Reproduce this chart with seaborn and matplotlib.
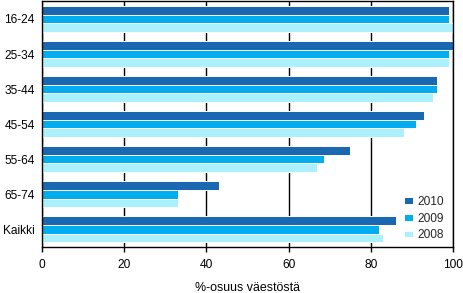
import matplotlib
matplotlib.use("Agg")
import matplotlib.pyplot as plt
import seaborn as sns
import pandas as pd

categories = ["16-24", "25-34", "35-44", "45-54", "55-64", "65-74", "Kaikki"]
v2010 = [99, 100, 96, 93, 75, 43, 86]
v2009 = [99, 99, 96, 91, 68.5, 33, 82]
v2008 = [100, 99, 95, 88, 67, 33, 83]
series = ["2010", "2009", "2008"]
colors = ["#1A68B2", "#00ADEE", "#AAF0FD"]

df = pd.DataFrame({
    "cat": categories * 3,
    "val": v2010 + v2009 + v2008,
    "year": [s for s in series for _ in categories],
})

sns.set_theme(style="white")
plt.rcParams["font.family"] = ["Liberation Sans", "DejaVu Sans"]

FS = 8.6

fig = plt.figure(figsize=(4.63, 2.93), dpi=100)
ax = fig.add_axes([0.090, 0.158, 0.889, 0.837])

sns.barplot(data=df, y="cat", x="val", hue="year", hue_order=series,
            palette=colors, orient="h", width=0.75, edgecolor="white",
            linewidth=0.7, ax=ax, saturation=1, legend=True)

ax.set_xlim(0, 100)
ax.set_ylim(6.5, -0.5)
ax.set_xticks([0, 20, 40, 60, 80, 100])
ax.set_axisbelow(True)
ax.grid(axis="x", color="black", linewidth=1.0)
ax.grid(axis="y", visible=False)
for s in ax.spines.values():
    s.set_visible(True)
    s.set_color("black")
    s.set_linewidth(1.0)

ax.tick_params(axis="x", bottom=True, length=3.6, width=1.0, color="black",
               labelsize=FS, pad=5, labelcolor="black")
ax.tick_params(axis="y", left=False, length=0, labelsize=FS, pad=5,
               labelcolor="black")
ax.set_ylabel("")
ax.set_xlabel("%-osuus väestöstä", fontsize=FS + 0.3, color="black", labelpad=8)

leg = ax.legend(loc="lower right", bbox_to_anchor=(0.997, -0.012), frameon=False,
                fontsize=FS, handlelength=0.75, handleheight=0.5,
                handletextpad=0.35, labelspacing=0.4, borderaxespad=0.3)

fig.savefig("out.png", dpi=100)
